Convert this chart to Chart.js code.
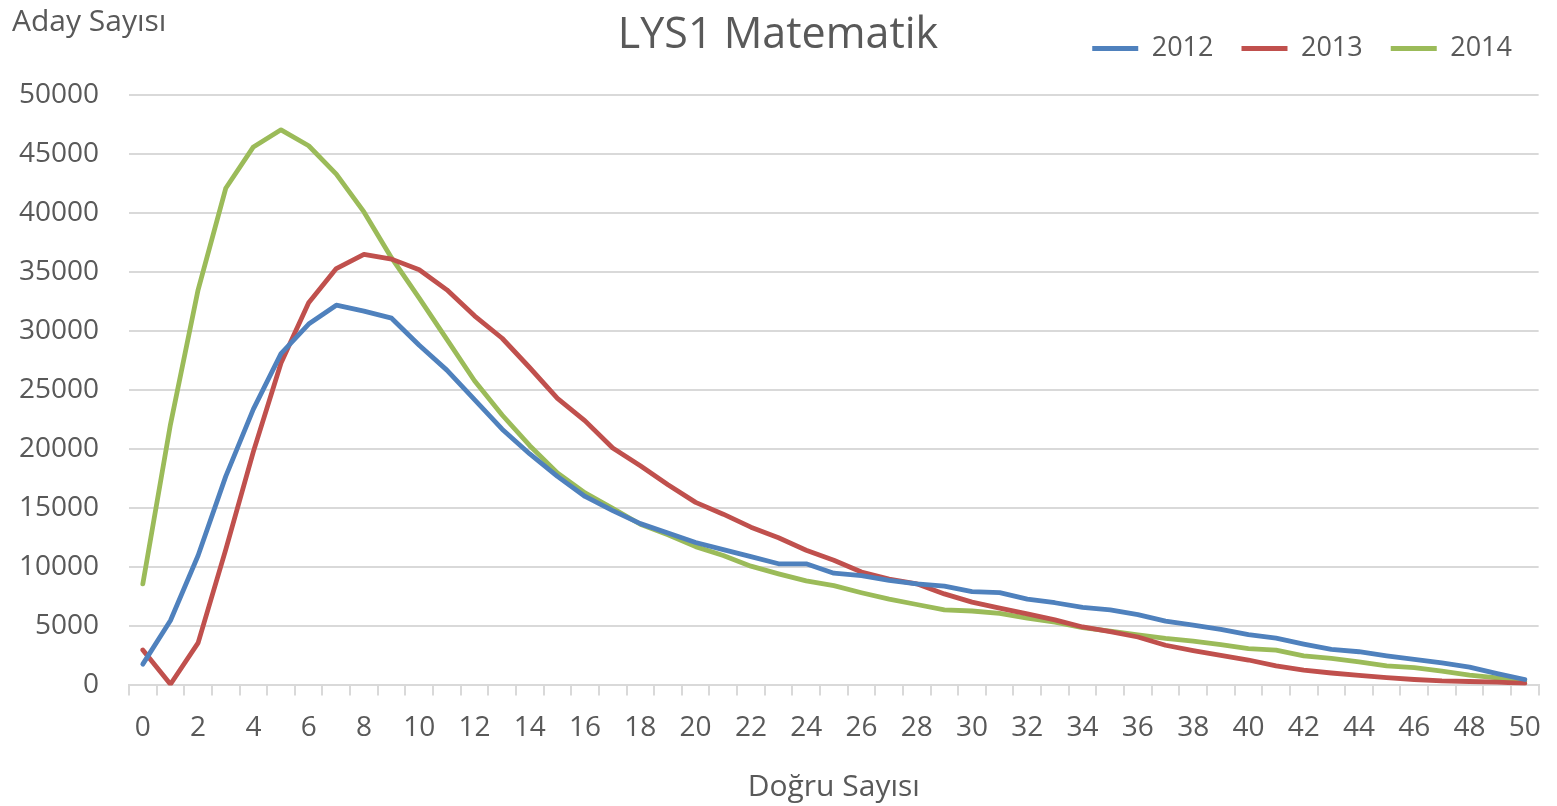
<!DOCTYPE html>
<html>
<head>
<meta charset="utf-8">
<script src="https://cdn.jsdelivr.net/npm/chart.js@4"></script>
<style>
  html, body { margin: 0; padding: 0; background: #ffffff; }
  #wrap { width: 1557px; height: 806px; }
</style>
</head>
<body>
<div id="wrap"><canvas id="c" width="1557" height="806"></canvas></div>
<script>
const chartTitle = 'LYS1 Matematik';
const yAxisTitle = 'Aday Sayısı';
const xAxisTitle = 'Doğru Sayısı';
const seriesNames = ['2012', '2013', '2014'];
const categories = [0,1,2,3,4,5,6,7,8,9,10,11,12,13,14,15,16,17,18,19,20,21,22,23,24,25,26,27,28,29,30,31,32,33,34,35,36,37,38,39,40,41,42,43,44,45,46,47,48,49,50];
const values2012 = [1800, 5500, 11000, 17700, 23400, 28100, 30600, 32200, 31700, 31100, 28800, 26700, 24200, 21700, 19600, 17700, 16000, 14800, 13700, 12900, 12100, 11500, 10900, 10300, 10300, 9500, 9300, 8900, 8600, 8400, 7950, 7850, 7300, 7000, 6600, 6400, 6000, 5450, 5100, 4750, 4300, 4000, 3500, 3050, 2850, 2500, 2200, 1900, 1550, 1000, 500];
const values2013 = [3000, 100, 3600, 11500, 19800, 27300, 32400, 35300, 36500, 36100, 35200, 33500, 31300, 29400, 26900, 24300, 22400, 20100, 18600, 17000, 15500, 14500, 13400, 12500, 11450, 10600, 9600, 9000, 8600, 7750, 7050, 6550, 6050, 5550, 4950, 4550, 4100, 3400, 2950, 2550, 2150, 1650, 1300, 1050, 850, 650, 500, 380, 330, 280, 180];
const values2014 = [8600, 22100, 33500, 42100, 45600, 47050, 45700, 43300, 40100, 36200, 32800, 29300, 25800, 22900, 20300, 18000, 16300, 15000, 13650, 12750, 11750, 11000, 10100, 9450, 8850, 8450, 7850, 7300, 6850, 6400, 6300, 6100, 5700, 5350, 4900, 4600, 4270, 3980, 3750, 3450, 3120, 2980, 2500, 2280, 2000, 1650, 1500, 1200, 870, 640, 370];
const yMin = 0, yMax = 50000, yStep = 5000;

const FONT = "'Open Sans', 'Liberation Sans', sans-serif";
const TEXT = '#595959';
const GRID = '#d9d9d9';

const textPlugin = {
  id: 'extraText',
  afterDraw(chart) {
    const ctx = chart.ctx;
    ctx.save();
    ctx.fillStyle = TEXT;
    ctx.textBaseline = 'alphabetic';
    ctx.font = '43px ' + FONT;
    ctx.textAlign = 'center';
    ctx.fillText(chartTitle, 778, 48);
    ctx.font = '30px ' + FONT;
    ctx.textAlign = 'left';
    ctx.fillText(yAxisTitle, 12, 31);
    ctx.restore();
  }
};

function mk(label, data, color) {
  return {
    label, data,
    borderColor: color, backgroundColor: color,
    borderWidth: 4.8, pointRadius: 0, pointHoverRadius: 0,
    tension: 0, fill: false,
    borderCapStyle: 'round', borderJoinStyle: 'round'
  };
}

new Chart(document.getElementById('c'), {
  type: 'line',
  data: {
    labels: categories.map(String),
    datasets: [
      mk(seriesNames[0], values2012, '#4f81bd'),
      mk(seriesNames[1], values2013, '#c0504d'),
      mk(seriesNames[2], values2014, '#9bbb59')
    ]
  },
  options: {
    responsive: false,
    animation: false,
    layout: { padding: { top: 7, right: 17, left: 19, bottom: 1 } },
    plugins: {
      legend: {
        display: true, position: 'top', align: 'end',
        labels: {
          usePointStyle: true, pointStyle: 'line', pointStyleWidth: 46,
          padding: 28, color: TEXT, font: { family: FONT, size: 27 }
        }
      },
      subtitle: {
        display: true, text: '', weight: 500,
        font: { size: 10 }, padding: { top: 0, bottom: 11 }
      },
      title: { display: false },
      tooltip: { enabled: false }
    },
    scales: {
      x: {
        type: 'category', offset: true,
        grid: { offset: true, drawOnChartArea: false, drawTicks: true, tickLength: 10, color: GRID, lineWidth: 2 },
        border: { display: true, color: GRID, width: 2 },
        ticks: {
          autoSkip: false, maxRotation: 0, padding: 16, color: TEXT,
          font: { family: FONT, size: 28 },
          callback: function(v, i) { return i % 2 === 0 ? categories[i] : ''; }
        },
        title: { display: true, text: xAxisTitle, color: TEXT, font: { family: FONT, size: 30 }, padding: { top: 8, bottom: 0 } }
      },
      y: {
        min: yMin, max: yMax,
        afterFit(scale) { scale.width = 110; },
        grid: { color: GRID, lineWidth: 2, drawTicks: false },
        border: { display: false },
        ticks: {
          stepSize: yStep, padding: 30, color: TEXT,
          font: { family: FONT, size: 28 },
          callback: v => String(v)
        }
      }
    }
  },
  plugins: [textPlugin]
});
</script>
</body>
</html>
